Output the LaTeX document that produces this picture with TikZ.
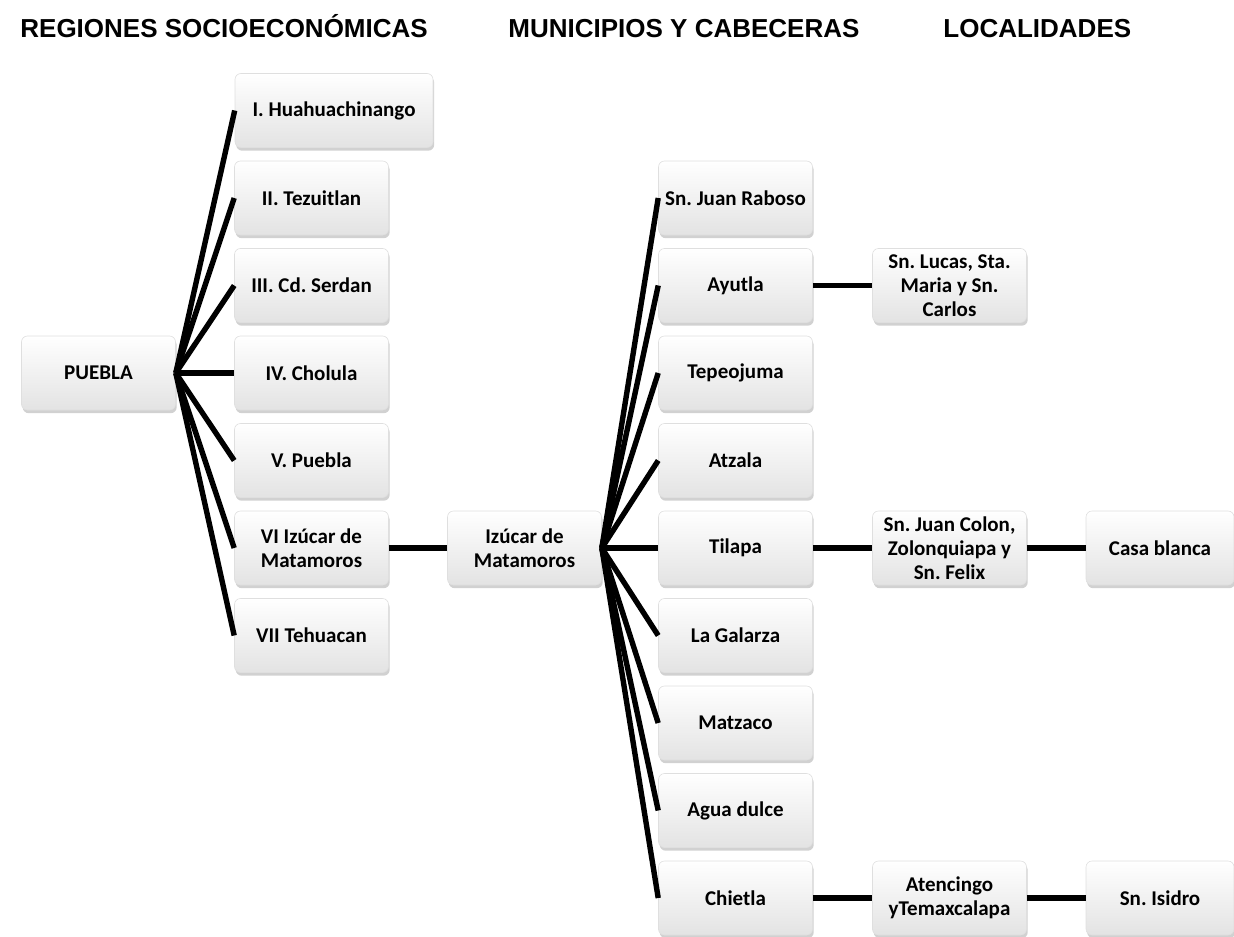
\documentclass[tikz,border=0pt]{standalone}
\usepackage{fontspec}
\setmainfont{Carlito}
\newfontfamily\headfont{Liberation Sans}
\usetikzlibrary{shadows}
\frenchspacing

\tikzset{
  box/.style={rectangle, rounded corners=3pt, minimum width=77pt,
    minimum height=37pt, inner sep=1pt, align=center,
    top color=white, bottom color=gray!22, draw=gray!25, line width=0.3pt,
    drop shadow={shadow xshift=0.6pt, shadow yshift=-1.6pt, opacity=0.45, fill=gray!80},
    font=\fontsize{10.5}{12}\selectfont\bfseries},
  head/.style={anchor=base west, inner sep=0pt,
    font=\headfont\fontsize{13}{15}\selectfont\bfseries},
  link/.style={line width=2.7pt, black}
}

\begin{document}
\begin{tikzpicture}[x=0.5pt, y=-0.5pt]
  \useasboundingbox (0,0) rectangle (1234,936);

  % column headings
  \node[head] (hreg) at (20,38) {REGIONES SOCIOECONÓMICAS};
  \node[head] (hmun) at (508,38) {MUNICIPIOS Y CABECERAS};
  \node[head] (hloc) at (943,38) {LOCALIDADES};

  % state
  \node[box] (puebla) at (98.5,373) {PUEBLA};

  % regions
  \node[box, minimum width=99pt] (huahua) at (334,110.5) {I. Huahuachinango};
  \node[box] (tezuit) at (311.5,198) {II. Tezuitlan};
  \node[box] (serdan) at (311.5,285.5) {III. Cd. Serdan};
  \node[box] (cholula) at (311.5,373) {IV. Cholula};
  \node[box] (vpuebla) at (311.5,460.5) {V. Puebla};
  \node[box] (vizucar) at (311.5,548) {VI Izúcar de\\Matamoros};
  \node[box] (tehuac) at (311.5,635.5) {VII Tehuacan};

  % cabecera
  \node[box] (izucar) at (524.5,548) {Izúcar de\\Matamoros};

  % municipios
  \node[box] (raboso) at (735.5,198) {Sn. Juan Raboso};
  \node[box] (ayutla) at (735.5,285.5) {Ayutla};
  \node[box] (tepeo) at (735.5,373) {Tepeojuma};
  \node[box] (atzala) at (735.5,460.5) {Atzala};
  \node[box] (tilapa) at (735.5,548) {Tilapa};
  \node[box] (galarza) at (735.5,635.5) {La Galarza};
  \node[box] (matzaco) at (735.5,723) {Matzaco};
  \node[box] (agua) at (735.5,810.5) {Agua dulce};
  \node[box] (chietla) at (735.5,898) {Chietla};

  % localidades
  \node[box] (lucas) at (949.5,285.5) {Sn. Lucas, Sta.\\Maria y Sn.\\Carlos};
  \node[box] (colon) at (949.5,548) {Sn. Juan Colon,\\Zolonquiapa y\\Sn. Felix};
  \node[box] (atenc) at (949.5,898) {Atencingo\\yTemaxcalapa};
  \node[box, minimum width=74pt] (casa) at (1160,548) {Casa blanca};
  \node[box, minimum width=74pt] (isidro) at (1160,898) {Sn. Isidro};

  % connectors
  \foreach \r in {huahua,tezuit,serdan,cholula,vpuebla,vizucar,tehuac}
    \draw[link] (puebla.east) -- (\r.west);
  \draw[link] (vizucar.east) -- (izucar.west);
  \foreach \m in {raboso,ayutla,tepeo,atzala,tilapa,galarza,matzaco,agua,chietla}
    \draw[link] (izucar.east) -- (\m.west);
  \draw[link] (ayutla.east) -- (lucas.west);
  \draw[link] (tilapa.east) -- (colon.west);
  \draw[link] (colon.east) -- (casa.west);
  \draw[link] (chietla.east) -- (atenc.west);
  \draw[link] (atenc.east) -- (isidro.west);

\end{tikzpicture}
\end{document}
